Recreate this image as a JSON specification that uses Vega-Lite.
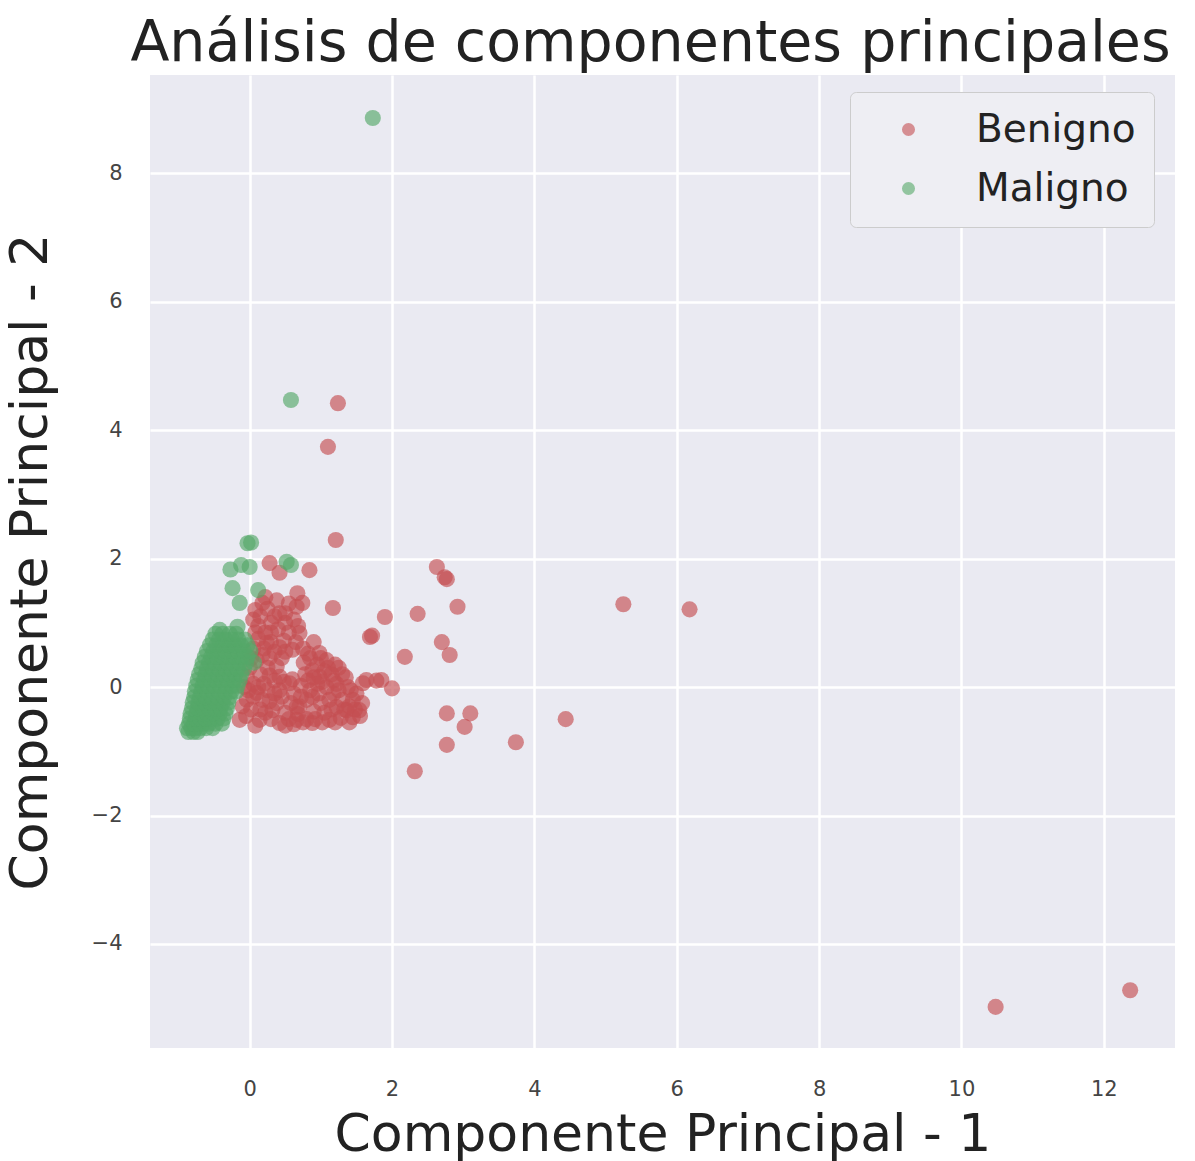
{
"$schema": "https://vega.github.io/schema/vega-lite/v6.json",
"autosize": "none",
"width": 1025,
"height": 973,
"padding": {"left": 150, "top": 75, "right": 20, "bottom": 113},
"background": "white",
"config": {
  "view": {"fill": "#eaeaf2", "stroke": null},
  "axis": {"domain": false, "ticks": false, "grid": true, "gridColor": "white", "gridWidth": 2.5,
    "labelFont": "DejaVu Sans", "labelFontSize": 21, "labelColor": "#444444",
    "titleFont": "DejaVu Sans", "titleFontSize": 52, "titleFontWeight": "normal", "titleColor": "#222222"}
},
"title": {"text": "Análisis de componentes principales", "font": "DejaVu Sans", "fontSize": 57, "fontWeight": "normal", "color": "#222222", "anchor": "middle", "offset": 2, "dx": -12},
"data": {"values": [
{"x":1.24,"y":4.42,"d":"Benigno"},{"x":1.10,"y":3.74,"d":"Benigno"},{"x":1.21,"y":2.29,"d":"Benigno"},{"x":5.25,"y":1.29,"d":"Benigno"},{"x":6.18,"y":1.21,"d":"Benigno"},{"x":4.44,"y":-0.50,"d":"Benigno"},{"x":3.74,"y":-0.86,"d":"Benigno"},{"x":2.32,"y":-1.31,"d":"Benigno"},{"x":10.48,"y":-4.98,"d":"Benigno"},{"x":12.37,"y":-4.72,"d":"Benigno"},
{"x":2.63,"y":1.87,"d":"Benigno"},{"x":2.74,"y":1.71,"d":"Benigno"},{"x":2.77,"y":1.68,"d":"Benigno"},{"x":2.92,"y":1.25,"d":"Benigno"},{"x":2.36,"y":1.14,"d":"Benigno"},{"x":1.90,"y":1.09,"d":"Benigno"},{"x":2.70,"y":0.70,"d":"Benigno"},{"x":2.81,"y":0.50,"d":"Benigno"},{"x":2.18,"y":0.47,"d":"Benigno"},{"x":1.85,"y":0.11,"d":"Benigno"},{"x":2.00,"y":-0.02,"d":"Benigno"},{"x":1.78,"y":0.10,"d":"Benigno"},{"x":1.59,"y":0.06,"d":"Benigno"},{"x":2.77,"y":-0.41,"d":"Benigno"},{"x":3.10,"y":-0.41,"d":"Benigno"},{"x":3.02,"y":-0.62,"d":"Benigno"},{"x":2.77,"y":-0.90,"d":"Benigno"},{"x":1.69,"y":0.78,"d":"Benigno"},{"x":1.72,"y":0.80,"d":"Benigno"},{"x":1.17,"y":1.23,"d":"Benigno"},{"x":0.84,"y":1.82,"d":"Benigno"},{"x":0.28,"y":1.93,"d":"Benigno"},{"x":0.42,"y":1.78,"d":"Benigno"},{"x":0.67,"y":1.46,"d":"Benigno"},{"x":0.74,"y":1.31,"d":"Benigno"},
{"x":0.18,"y":1.31,"d":"Benigno"},{"x":0.42,"y":1.15,"d":"Benigno"},{"x":0.66,"y":1.25,"d":"Benigno"},{"x":0.70,"y":0.84,"d":"Benigno"},{"x":0.60,"y":0.58,"d":"Benigno"},{"x":0.24,"y":0.69,"d":"Benigno"},{"x":0.10,"y":0.42,"d":"Benigno"},{"x":0.98,"y":0.53,"d":"Benigno"},{"x":1.08,"y":0.42,"d":"Benigno"},{"x":0.88,"y":0.26,"d":"Benigno"},{"x":0.42,"y":0.16,"d":"Benigno"},{"x":-0.04,"y":0.16,"d":"Benigno"},{"x":-0.04,"y":-0.2,"d":"Benigno"},{"x":-0.14,"y":-0.51,"d":"Benigno"},{"x":0.10,"y":-0.09,"d":"Benigno"},{"x":0.42,"y":-0.05,"d":"Benigno"},{"x":0.56,"y":0.06,"d":"Benigno"},{"x":0.66,"y":-0.31,"d":"Benigno"},{"x":0.80,"y":-0.2,"d":"Benigno"},{"x":0.98,"y":0.16,"d":"Benigno"},{"x":1.08,"y":0.0,"d":"Benigno"},{"x":1.12,"y":-0.2,"d":"Benigno"},{"x":1.22,"y":-0.31,"d":"Benigno"},{"x":1.36,"y":-0.36,"d":"Benigno"},{"x":1.45,"y":-0.2,"d":"Benigno"},{"x":1.54,"y":-0.36,"d":"Benigno"},{"x":1.45,"y":-0.47,"d":"Benigno"},{"x":1.12,"y":-0.51,"d":"Benigno"},{"x":0.88,"y":-0.56,"d":"Benigno"},{"x":0.66,"y":-0.51,"d":"Benigno"},{"x":0.42,"y":-0.56,"d":"Benigno"},{"x":0.14,"y":-0.51,"d":"Benigno"},{"x":0.32,"y":-0.36,"d":"Benigno"},{"x":0.18,"y":-0.2,"d":"Benigno"},{"x":1.64,"y":0.11,"d":"Benigno"},{"x":0.05,"y":1.05,"d":"Benigno"},{"x":0.12,"y":0.95,"d":"Benigno"},{"x":0.3,"y":1.0,"d":"Benigno"},{"x":0.22,"y":0.85,"d":"Benigno"},{"x":0.35,"y":0.55,"d":"Benigno"},{"x":0.48,"y":0.72,"d":"Benigno"},{"x":0.15,"y":0.2,"d":"Benigno"},{"x":0.25,"y":0.3,"d":"Benigno"},{"x":0.05,"y":0.6,"d":"Benigno"},{"x":0.0,"y":0.3,"d":"Benigno"},{"x":-0.08,"y":0.0,"d":"Benigno"},{"x":0.02,"y":-0.35,"d":"Benigno"},{"x":0.28,"y":-0.22,"d":"Benigno"},{"x":0.5,"y":-0.4,"d":"Benigno"},{"x":0.62,"y":-0.1,"d":"Benigno"},{"x":0.72,"y":0.02,"d":"Benigno"},{"x":0.85,"y":-0.05,"d":"Benigno"},{"x":0.9,"y":-0.38,"d":"Benigno"},{"x":1.0,"y":-0.25,"d":"Benigno"},{"x":1.05,"y":0.25,"d":"Benigno"},{"x":1.18,"y":0.1,"d":"Benigno"},{"x":1.25,"y":-0.05,"d":"Benigno"},{"x":1.3,"y":0.2,"d":"Benigno"},{"x":0.76,"y":0.38,"d":"Benigno"},{"x":0.35,"y":-0.1,"d":"Benigno"},{"x":0.8,"y":-0.5,"d":"Benigno"},{"x":1.28,"y":-0.48,"d":"Benigno"},{"x":1.5,"y":-0.1,"d":"Benigno"},{"x":0.95,"y":0.05,"d":"Benigno"},{"x":0.58,"y":-0.25,"d":"Benigno"},{"x":0.2,"y":0.05,"d":"Benigno"},{"x":0.45,"y":0.45,"d":"Benigno"},{"x":-0.1,"y":-0.3,"d":"Benigno"},{"x":0.08,"y":-0.6,"d":"Benigno"},{"x":0.3,"y":0.85,"d":"Benigno"},{"x":0.5,"y":1.0,"d":"Benigno"},{"x":0.55,"y":1.3,"d":"Benigno"},{"x":0.15,"y":1.1,"d":"Benigno"},{"x":1.38,"y":0.0,"d":"Benigno"},{"x":1.2,"y":0.35,"d":"Benigno"},{"x":0.9,"y":0.7,"d":"Benigno"},{"x":0.38,"y":1.35,"d":"Benigno"},
{"x":0.08,"y":1.2,"d":"Benigno"},{"x":0.25,"y":1.22,"d":"Benigno"},{"x":0.35,"y":1.1,"d":"Benigno"},{"x":0.5,"y":1.15,"d":"Benigno"},{"x":0.62,"y":1.05,"d":"Benigno"},{"x":0.12,"y":0.75,"d":"Benigno"},{"x":0.2,"y":0.6,"d":"Benigno"},{"x":0.3,"y":0.7,"d":"Benigno"},{"x":0.4,"y":0.9,"d":"Benigno"},{"x":0.55,"y":0.85,"d":"Benigno"},{"x":0.65,"y":0.7,"d":"Benigno"},{"x":0.75,"y":0.6,"d":"Benigno"},{"x":0.42,"y":0.62,"d":"Benigno"},{"x":0.28,"y":0.45,"d":"Benigno"},{"x":0.18,"y":0.5,"d":"Benigno"},{"x":0.08,"y":0.85,"d":"Benigno"},{"x":0.02,"y":0.45,"d":"Benigno"},{"x":0.38,"y":0.32,"d":"Benigno"},{"x":0.5,"y":0.55,"d":"Benigno"},{"x":0.85,"y":0.45,"d":"Benigno"},{"x":0.95,"y":0.35,"d":"Benigno"},{"x":0.68,"y":0.95,"d":"Benigno"},{"x":0.22,"y":1.4,"d":"Benigno"},
{"x":-0.05,"y":-0.45,"d":"Benigno"},{"x":0.05,"y":-0.15,"d":"Benigno"},{"x":0.12,"y":0.0,"d":"Benigno"},{"x":0.22,"y":-0.4,"d":"Benigno"},{"x":0.3,"y":-0.5,"d":"Benigno"},{"x":0.38,"y":-0.25,"d":"Benigno"},{"x":0.45,"y":-0.15,"d":"Benigno"},{"x":0.48,"y":0.08,"d":"Benigno"},{"x":0.55,"y":-0.5,"d":"Benigno"},{"x":0.6,"y":0.12,"d":"Benigno"},{"x":0.68,"y":-0.42,"d":"Benigno"},{"x":0.72,"y":-0.15,"d":"Benigno"},{"x":0.78,"y":0.2,"d":"Benigno"},{"x":0.82,"y":0.1,"d":"Benigno"},{"x":0.88,"y":-0.15,"d":"Benigno"},{"x":0.92,"y":-0.5,"d":"Benigno"},{"x":0.97,"y":-0.1,"d":"Benigno"},{"x":1.02,"y":0.08,"d":"Benigno"},{"x":1.05,"y":-0.4,"d":"Benigno"},{"x":1.1,"y":0.3,"d":"Benigno"},{"x":1.15,"y":-0.35,"d":"Benigno"},{"x":1.18,"y":-0.1,"d":"Benigno"},{"x":1.22,"y":0.05,"d":"Benigno"},{"x":1.3,"y":-0.2,"d":"Benigno"},{"x":1.33,"y":-0.35,"d":"Benigno"},{"x":1.4,"y":-0.3,"d":"Benigno"},{"x":1.42,"y":-0.05,"d":"Benigno"},{"x":1.48,"y":-0.35,"d":"Benigno"},{"x":1.55,"y":-0.45,"d":"Benigno"},{"x":1.58,"y":-0.25,"d":"Benigno"},{"x":1.02,"y":-0.55,"d":"Benigno"},{"x":0.75,"y":-0.55,"d":"Benigno"},{"x":0.25,"y":-0.05,"d":"Benigno"},{"x":0.15,"y":-0.35,"d":"Benigno"},{"x":0.35,"y":0.1,"d":"Benigno"},{"x":0.7,"y":-0.3,"d":"Benigno"},{"x":0.9,"y":0.15,"d":"Benigno"},{"x":1.15,"y":0.2,"d":"Benigno"},{"x":1.0,"y":0.45,"d":"Benigno"},{"x":0.82,"y":0.52,"d":"Benigno"},{"x":1.25,"y":0.3,"d":"Benigno"},{"x":1.35,"y":0.15,"d":"Benigno"},{"x":0.05,"y":0.05,"d":"Benigno"},{"x":0.28,"y":0.18,"d":"Benigno"},{"x":-0.02,"y":-0.05,"d":"Benigno"},{"x":0.5,"y":-0.6,"d":"Benigno"},{"x":0.62,"y":-0.58,"d":"Benigno"},{"x":1.2,"y":-0.55,"d":"Benigno"},{"x":1.4,"y":-0.55,"d":"Benigno"},
{"x":1.73,"y":8.86,"d":"Maligno"},{"x":0.58,"y":4.47,"d":"Maligno"},{"x":-0.03,"y":2.24,"d":"Maligno"},{"x":0.02,"y":2.25,"d":"Maligno"},{"x":-0.12,"y":1.90,"d":"Maligno"},{"x":-0.27,"y":1.83,"d":"Maligno"},{"x":0.0,"y":1.87,"d":"Maligno"},{"x":0.52,"y":1.95,"d":"Maligno"},{"x":0.58,"y":1.90,"d":"Maligno"},{"x":-0.24,"y":1.54,"d":"Maligno"},{"x":0.12,"y":1.51,"d":"Maligno"},{"x":-0.14,"y":1.31,"d":"Maligno"},{"x":-0.42,"y":0.89,"d":"Maligno"},{"x":-0.17,"y":0.94,"d":"Maligno"},
{"x":-0.86,"y":-0.70,"d":"Maligno"},{"x":-0.79,"y":-0.70,"d":"Maligno"},{"x":-0.73,"y":-0.70,"d":"Maligno"},
{"x":-0.88,"y":-0.64,"d":"Maligno"},{"x":-0.82,"y":-0.64,"d":"Maligno"},{"x":-0.76,"y":-0.64,"d":"Maligno"},{"x":-0.69,"y":-0.64,"d":"Maligno"},{"x":-0.61,"y":-0.64,"d":"Maligno"},{"x":-0.52,"y":-0.64,"d":"Maligno"},
{"x":-0.85,"y":-0.57,"d":"Maligno"},{"x":-0.78,"y":-0.57,"d":"Maligno"},{"x":-0.71,"y":-0.57,"d":"Maligno"},{"x":-0.64,"y":-0.57,"d":"Maligno"},{"x":-0.57,"y":-0.57,"d":"Maligno"},{"x":-0.48,"y":-0.57,"d":"Maligno"},{"x":-0.39,"y":-0.57,"d":"Maligno"},
{"x":-0.84,"y":-0.49,"d":"Maligno"},{"x":-0.76,"y":-0.49,"d":"Maligno"},{"x":-0.69,"y":-0.49,"d":"Maligno"},{"x":-0.62,"y":-0.49,"d":"Maligno"},{"x":-0.54,"y":-0.49,"d":"Maligno"},{"x":-0.45,"y":-0.49,"d":"Maligno"},{"x":-0.37,"y":-0.49,"d":"Maligno"},
{"x":-0.83,"y":-0.41,"d":"Maligno"},{"x":-0.75,"y":-0.41,"d":"Maligno"},{"x":-0.67,"y":-0.41,"d":"Maligno"},{"x":-0.60,"y":-0.41,"d":"Maligno"},{"x":-0.51,"y":-0.41,"d":"Maligno"},{"x":-0.42,"y":-0.41,"d":"Maligno"},{"x":-0.34,"y":-0.41,"d":"Maligno"},
{"x":-0.81,"y":-0.33,"d":"Maligno"},{"x":-0.73,"y":-0.33,"d":"Maligno"},{"x":-0.65,"y":-0.33,"d":"Maligno"},{"x":-0.57,"y":-0.33,"d":"Maligno"},{"x":-0.49,"y":-0.33,"d":"Maligno"},{"x":-0.41,"y":-0.33,"d":"Maligno"},{"x":-0.32,"y":-0.33,"d":"Maligno"},
{"x":-0.80,"y":-0.24,"d":"Maligno"},{"x":-0.72,"y":-0.24,"d":"Maligno"},{"x":-0.63,"y":-0.24,"d":"Maligno"},{"x":-0.55,"y":-0.24,"d":"Maligno"},{"x":-0.47,"y":-0.24,"d":"Maligno"},{"x":-0.38,"y":-0.24,"d":"Maligno"},{"x":-0.30,"y":-0.24,"d":"Maligno"},
{"x":-0.78,"y":-0.16,"d":"Maligno"},{"x":-0.70,"y":-0.16,"d":"Maligno"},{"x":-0.62,"y":-0.16,"d":"Maligno"},{"x":-0.53,"y":-0.16,"d":"Maligno"},{"x":-0.45,"y":-0.16,"d":"Maligno"},{"x":-0.36,"y":-0.16,"d":"Maligno"},{"x":-0.28,"y":-0.16,"d":"Maligno"},
{"x":-0.77,"y":-0.07,"d":"Maligno"},{"x":-0.68,"y":-0.07,"d":"Maligno"},{"x":-0.60,"y":-0.07,"d":"Maligno"},{"x":-0.51,"y":-0.07,"d":"Maligno"},{"x":-0.43,"y":-0.07,"d":"Maligno"},{"x":-0.34,"y":-0.07,"d":"Maligno"},{"x":-0.26,"y":-0.07,"d":"Maligno"},{"x":-0.19,"y":-0.07,"d":"Maligno"},
{"x":-0.75,"y":0.02,"d":"Maligno"},{"x":-0.66,"y":0.02,"d":"Maligno"},{"x":-0.58,"y":0.02,"d":"Maligno"},{"x":-0.50,"y":0.02,"d":"Maligno"},{"x":-0.41,"y":0.02,"d":"Maligno"},{"x":-0.33,"y":0.02,"d":"Maligno"},{"x":-0.24,"y":0.02,"d":"Maligno"},{"x":-0.17,"y":0.02,"d":"Maligno"},
{"x":-0.73,"y":0.11,"d":"Maligno"},{"x":-0.64,"y":0.11,"d":"Maligno"},{"x":-0.56,"y":0.11,"d":"Maligno"},{"x":-0.48,"y":0.11,"d":"Maligno"},{"x":-0.39,"y":0.11,"d":"Maligno"},{"x":-0.31,"y":0.11,"d":"Maligno"},{"x":-0.22,"y":0.11,"d":"Maligno"},{"x":-0.14,"y":0.11,"d":"Maligno"},
{"x":-0.71,"y":0.20,"d":"Maligno"},{"x":-0.62,"y":0.20,"d":"Maligno"},{"x":-0.53,"y":0.20,"d":"Maligno"},{"x":-0.45,"y":0.20,"d":"Maligno"},{"x":-0.37,"y":0.20,"d":"Maligno"},{"x":-0.28,"y":0.20,"d":"Maligno"},{"x":-0.20,"y":0.20,"d":"Maligno"},{"x":-0.12,"y":0.20,"d":"Maligno"},
{"x":-0.68,"y":0.29,"d":"Maligno"},{"x":-0.60,"y":0.29,"d":"Maligno"},{"x":-0.51,"y":0.29,"d":"Maligno"},{"x":-0.43,"y":0.29,"d":"Maligno"},{"x":-0.34,"y":0.29,"d":"Maligno"},{"x":-0.26,"y":0.29,"d":"Maligno"},{"x":-0.17,"y":0.29,"d":"Maligno"},{"x":-0.08,"y":0.29,"d":"Maligno"},
{"x":-0.66,"y":0.38,"d":"Maligno"},{"x":-0.57,"y":0.38,"d":"Maligno"},{"x":-0.48,"y":0.38,"d":"Maligno"},{"x":-0.40,"y":0.38,"d":"Maligno"},{"x":-0.31,"y":0.38,"d":"Maligno"},{"x":-0.23,"y":0.38,"d":"Maligno"},{"x":-0.14,"y":0.38,"d":"Maligno"},{"x":-0.05,"y":0.38,"d":"Maligno"},{"x":0.06,"y":0.38,"d":"Maligno"},
{"x":-0.63,"y":0.47,"d":"Maligno"},{"x":-0.54,"y":0.47,"d":"Maligno"},{"x":-0.46,"y":0.47,"d":"Maligno"},{"x":-0.37,"y":0.47,"d":"Maligno"},{"x":-0.29,"y":0.47,"d":"Maligno"},{"x":-0.20,"y":0.47,"d":"Maligno"},{"x":-0.11,"y":0.47,"d":"Maligno"},{"x":-0.03,"y":0.47,"d":"Maligno"},
{"x":-0.60,"y":0.56,"d":"Maligno"},{"x":-0.51,"y":0.56,"d":"Maligno"},{"x":-0.42,"y":0.56,"d":"Maligno"},{"x":-0.34,"y":0.56,"d":"Maligno"},{"x":-0.25,"y":0.56,"d":"Maligno"},{"x":-0.17,"y":0.56,"d":"Maligno"},{"x":-0.08,"y":0.56,"d":"Maligno"},{"x":0.01,"y":0.56,"d":"Maligno"},
{"x":-0.56,"y":0.65,"d":"Maligno"},{"x":-0.47,"y":0.65,"d":"Maligno"},{"x":-0.38,"y":0.65,"d":"Maligno"},{"x":-0.29,"y":0.65,"d":"Maligno"},{"x":-0.21,"y":0.65,"d":"Maligno"},{"x":-0.12,"y":0.65,"d":"Maligno"},{"x":-0.03,"y":0.65,"d":"Maligno"},
{"x":-0.52,"y":0.74,"d":"Maligno"},{"x":-0.43,"y":0.74,"d":"Maligno"},{"x":-0.34,"y":0.74,"d":"Maligno"},{"x":-0.25,"y":0.74,"d":"Maligno"},{"x":-0.16,"y":0.74,"d":"Maligno"},{"x":-0.07,"y":0.74,"d":"Maligno"},
{"x":-0.48,"y":0.83,"d":"Maligno"},{"x":-0.38,"y":0.83,"d":"Maligno"},{"x":-0.28,"y":0.83,"d":"Maligno"},{"x":-0.19,"y":0.83,"d":"Maligno"}
]},
"mark": {"type": "point", "filled": true, "size": 260, "opacity": 0.65},
"encoding": {
  "x": {"field": "x", "type": "quantitative", "scale": {"domain": [-1.4, 13.0], "nice": false, "zero": false},
    "axis": {"title": "Componente Principal - 1", "values": [0,2,4,6,8,10,12], "labelPadding": 30, "titlePadding": 10}},
  "y": {"field": "y", "type": "quantitative", "scale": {"domain": [-5.62, 9.53], "nice": false, "zero": false},
    "axis": {"title": "Componente Principal - 2", "values": [-4,-2,0,2,4,6,8], "labelPadding": 28, "titlePadding": 34}},
  "color": {"field": "d", "type": "nominal", "scale": {"domain": ["Benigno", "Maligno"], "range": ["#c44e52", "#55a868"]},
    "legend": {"orient": "none", "legendX": 700, "legendY": 17, "title": null, "labelFont": "DejaVu Sans", "labelFontSize": 39, "labelColor": "#222222", "labelLimit": 400,
      "symbolSize": 170, "symbolOpacity": 0.6, "symbolStrokeWidth": 0, "symbolType": "circle",
      "fillColor": "#eeeef3", "strokeColor": "#cccccc", "cornerRadius": 6, "padding": 18, "symbolOffset": 21, "labelOffset": 48, "rowPadding": 19}}
}
}
